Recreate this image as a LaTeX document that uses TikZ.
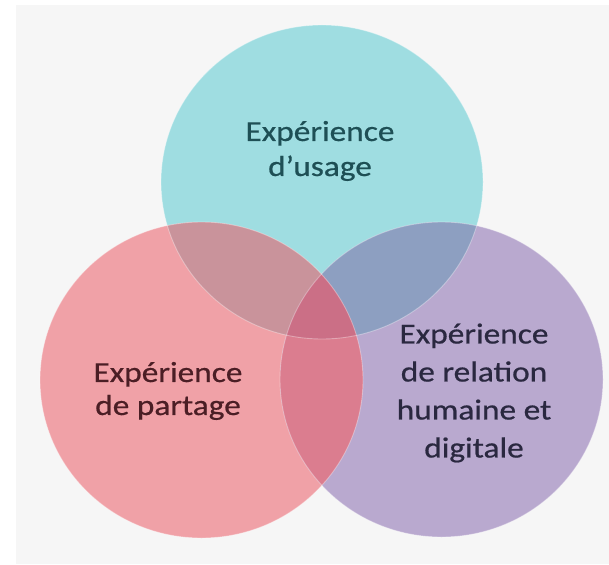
\documentclass[tikz,border=0pt]{standalone}
\usepackage{fontspec}
\setmainfont{Carlito}[FakeStretch=1.15,FakeBold=0.6]
\definecolor{bgrey}{HTML}{F6F6F6}
\definecolor{cT}{HTML}{9FDDE1}
\definecolor{cP}{HTML}{F0A1A7}
\definecolor{cV}{HTML}{B9A9CF}
\definecolor{cTP}{HTML}{C9939B}
\definecolor{cTV}{HTML}{8D9FC1}
\definecolor{cPV}{HTML}{DB7D8F}
\definecolor{cTPV}{HTML}{CB6F86}
\definecolor{tT}{HTML}{1E4F55}
\definecolor{tP}{HTML}{4B1E25}
\definecolor{tV}{HTML}{2A2840}
\tikzset{
  lbl/.style={align=center, inner sep=0pt, font=\fontsize{29}{35}\selectfont},
  rim/.style={draw=white, draw opacity=0.35, line width=0.9pt}
}
\begin{document}
\begin{tikzpicture}[x=1pt,y=-1pt]
\useasboundingbox (0,0) rectangle (609,564);
\fill[white] (0,0) rectangle (609,564);
\fill[bgrey] (16,5) rectangle (609,564);
\coordinate (T) at (322,182);
\coordinate (P) at (201.5,380);
\coordinate (V) at (441.5,379.5);
\def\ellT{(T) ellipse [x radius=161pt, y radius=157pt]}
\def\ellP{(P) ellipse [x radius=161.5pt, y radius=158pt]}
\def\ellV{(V) ellipse [x radius=161.5pt, y radius=157.5pt]}
\fill[cT] \ellT;
\fill[cP] \ellP;
\fill[cV] \ellV;
\begin{scope}
  \clip \ellT;
  \fill[cTP] \ellP;
  \fill[cTV] \ellV;
\end{scope}
\begin{scope}
  \clip \ellP;
  \fill[cPV] \ellV;
  \clip \ellT;
  \fill[cTPV] \ellV;
\end{scope}
\draw[rim] \ellT;
\draw[rim] \ellV;
\draw[rim] \ellP;
\node[lbl, text=tT] (lT) at (320,151) {Expérience\\d’usage};
\node[lbl, text=tP, font=\fontsize{29}{33}\selectfont] (lP) at (168,391) {Expérience\\de partage};
\node[lbl, text=tV, font=\fontsize{29}{38}\selectfont] (lV) at (474,393) {Expérience\\de relation\\humaine et\\digitale};
\end{tikzpicture}
\end{document}
